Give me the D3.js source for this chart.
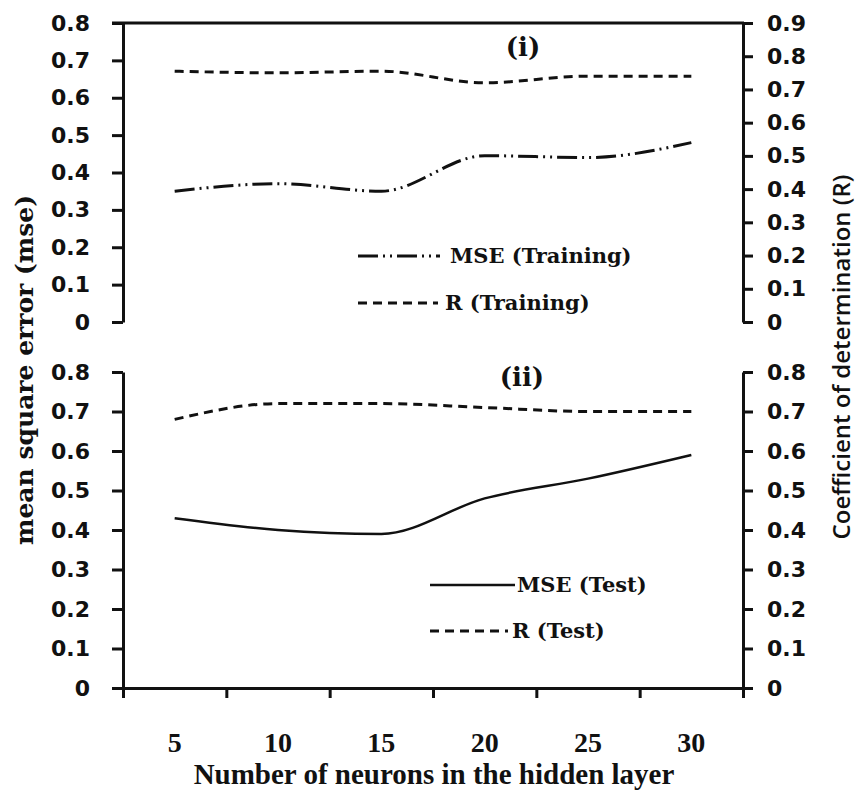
<!DOCTYPE html>
<html>
<head>
<meta charset="utf-8">
<script src="https://cdn.jsdelivr.net/npm/d3@7"></script>
<style>
  body { margin: 0; background: #fff; }
  svg { display: block; }
  .tick text { font-family: "DejaVu Sans", sans-serif; font-weight: bold; font-size: 22px; fill: #111; }
  .domain, .tick line { stroke: #111; stroke-width: 3; }
  .serif { font-family: "DejaVu Serif", serif; font-weight: bold; fill: #111; }
</style>
</head>
<body>
<svg id="chart" width="860" height="797"></svg>
<script>
// neurons in the hidden layer
const categories = [5, 10, 15, 20, 25, 30];

// panel (i): training
const mseTraining = [0.35, 0.37, 0.35, 0.445, 0.44, 0.48];
const rTraining = [0.755, 0.75, 0.755, 0.72, 0.74, 0.74];

// panel (ii): test
const mseTest = [0.43, 0.40, 0.39, 0.48, 0.53, 0.59];
const rTest = [0.68, 0.72, 0.72, 0.71, 0.70, 0.70];

const ticksLeft = [0, 0.1, 0.2, 0.3, 0.4, 0.5, 0.6, 0.7, 0.8];
const ticksRightTop = [0, 0.1, 0.2, 0.3, 0.4, 0.5, 0.6, 0.7, 0.8, 0.9];

const svg = d3.select('#chart');
const fmt = d => d === 0 ? '0' : d3.format('.1f')(d);

const LEFT = 123, RIGHT = 743;
const x = d3.scaleBand().domain(categories).range([LEFT, RIGHT]);

// Scales for both panels
const yTopL = d3.scaleLinear().domain([0, 0.8]).range([322, 23]);
const yTopR = d3.scaleLinear().domain([0, 0.9]).range([322, 23]);
const yBotL = d3.scaleLinear().domain([0, 0.8]).range([688, 372]);
const yBotR = d3.scaleLinear().domain([0, 0.8]).range([688, 372]);

function leftAxis(scale) {
	svg.append('g')
		.attr('transform', 'translate(' + LEFT + ',0)')
		.call(d3.axisLeft(scale).tickValues(ticksLeft).tickFormat(fmt)
			.tickSize(11).tickSizeOuter(0).tickPadding(22));
}

function rightAxis(scale, ticks) {
	svg.append('g')
		.attr('transform', 'translate(' + RIGHT + ',0)')
		.call(d3.axisRight(scale).tickValues(ticks).tickFormat(fmt)
			.tickSize(10).tickSizeOuter(0).tickPadding(14));
}

leftAxis(yTopL);
rightAxis(yTopR, ticksRightTop);
leftAxis(yBotL);
rightAxis(yBotR, ticksLeft);

// top border of panel (i)
svg.append('line')
	.attr('x1', LEFT - 11).attr('x2', RIGHT + 1)
	.attr('y1', yTopL(0.8)).attr('y2', yTopL(0.8))
	.attr('stroke', '#111').attr('stroke-width', 3);

// x axis: tick marks at category edges
const xEdge = d3.scaleLinear().domain([0, categories.length]).range([LEFT, RIGHT]);
svg.append('g')
	.attr('transform', 'translate(0,' + yBotL(0) + ')')
	.call(d3.axisBottom(xEdge).tickValues(d3.range(categories.length + 1))
		.tickFormat('').tickSize(10).tickSizeOuter(0));

const xLabels = svg.append('g')
	.attr('transform', 'translate(0,' + yBotL(0) + ')')
	.call(d3.axisBottom(x).tickSize(0).tickPadding(44));
xLabels.select('.domain').remove();
xLabels.selectAll('text')
	.style('font-family', '"Liberation Serif", serif')
	.style('font-size', '28px');

// axis titles
svg.append('text')
	.attr('class', 'serif')
	.attr('x', 434).attr('y', 784)
	.attr('text-anchor', 'middle')
	.style('font-family', '"Liberation Serif", serif')
	.style('font-size', '29px')
	.text('Number of neurons  in the hidden layer');

svg.append('text')
	.attr('class', 'serif')
	.attr('transform', 'translate(33,370) rotate(-90)')
	.attr('text-anchor', 'middle')
	.style('font-size', '25px')
	.text('mean square error (mse)');

svg.append('text')
	.attr('transform', 'translate(850,357) rotate(-90)')
	.attr('text-anchor', 'middle')
	.style('font-family', '"Open Sans", sans-serif')
	.style('font-weight', '600')
	.style('font-size', '24px')
	.style('fill', '#111')
	.text('Coefficient of determination (R)');

// panel labels
svg.append('text').attr('class', 'serif')
	.attr('x', 523).attr('y', 56).attr('text-anchor', 'middle')
	.style('font-size', '26px').text('(i)');
svg.append('text').attr('class', 'serif')
	.attr('x', 522).attr('y', 386).attr('text-anchor', 'middle')
	.style('font-size', '26px').text('(ii)');

// Series
const DASH = '9,6';
const DASH_DOT_DOT = '20,5,2,5,2,5';

function drawLine(values, yScale, dash, width) {
	const line = d3.line()
		.x((d, i) => x(categories[i]) + x.bandwidth() / 2)
		.y(d => yScale(d))
		.curve(d3.curveMonotoneX);
	svg.append('path')
		.datum(values)
		.attr('d', line)
		.attr('fill', 'none')
		.attr('stroke', '#111')
		.attr('stroke-width', width)
		.attr('stroke-dasharray', dash);
}

drawLine(rTraining, yTopR, DASH, 3);
drawLine(mseTraining, yTopL, DASH_DOT_DOT, 3);
drawLine(rTest, yBotR, DASH, 3);
drawLine(mseTest, yBotL, null, 2.5);

// Legends
function legendItem(x1, x2, yLine, tx, label, dash, width) {
	svg.append('line')
		.attr('x1', x1).attr('x2', x2)
		.attr('y1', yLine).attr('y2', yLine)
		.attr('stroke', '#111')
		.attr('stroke-width', width)
		.attr('stroke-dasharray', dash);
	svg.append('text')
		.attr('class', 'serif')
		.attr('x', tx).attr('y', yLine + 7)
		.style('font-size', '21px')
		.text(label);
}

legendItem(358, 440, 256, 450, 'MSE (Training)', DASH_DOT_DOT, 3);
legendItem(358, 438, 303, 445, 'R (Training)', DASH, 3);
legendItem(430, 515, 585, 517, 'MSE (Test)', null, 2.5);
legendItem(430, 508, 631, 512, 'R (Test)', DASH, 3);
</script>
</body>
</html>
